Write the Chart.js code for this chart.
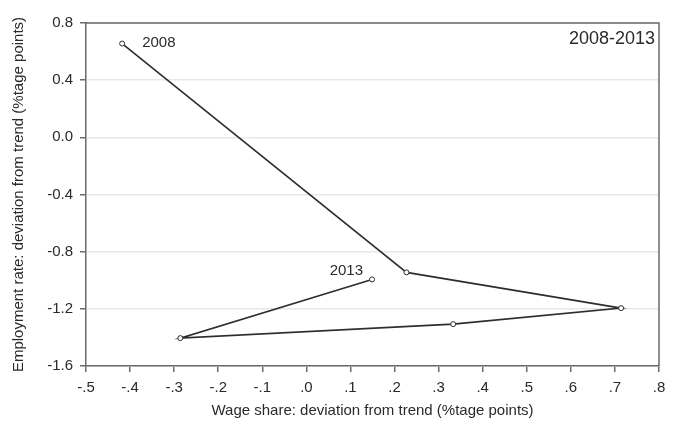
<!DOCTYPE html>
<html>
<head>
<meta charset="utf-8">
<script src="https://cdn.jsdelivr.net/npm/chart.js@4"></script>
<style>
  html, body { margin: 0; padding: 0; background: #ffffff; }
  #wrap { width: 686px; height: 435px; }
</style>
</head>
<body>
<div id="wrap"><canvas id="chart" width="686" height="435"></canvas></div>
<script>
// Data
const years          = ['2008', '2009', '2010', '2011', '2012', '2013'];
const wageShare      = [-0.418, 0.227, 0.714, 0.333, -0.286, 0.149];
const employmentRate = [0.656, -0.945, -1.195, -1.307, -1.405, -0.994];

const xTicks      = [-0.5, -0.4, -0.3, -0.2, -0.1, 0, 0.1, 0.2, 0.3, 0.4, 0.5, 0.6, 0.7, 0.8];
const xTickLabels = ['-.5', '-.4', '-.3', '-.2', '-.1', '.0', '.1', '.2', '.3', '.4', '.5', '.6', '.7', '.8'];
const yTicks      = [-1.6, -1.2, -0.8, -0.4, 0, 0.4, 0.8];
const yTickLabels = ['-1.6', '-1.2', '-0.8', '-0.4', '0.0', '0.4', '0.8'];

const periodLabel = '2008-2013';
const xTitle = 'Wage share: deviation from trend (%tage points)';
const yTitle = 'Employment rate: deviation from trend (%tage points)';

const FONT = "'Liberation Sans', Arial, sans-serif";
const TEXT_COLOR = '#2a2a2a';
const LINE_COLOR = '#2e2e2e';
const AXIS_COLOR = '#6a6a6a';

/* -------- Plugins -------- */

// top + right side of the plot box
const frame = {
  id: 'frame',
  afterDraw(chart) {
    const { ctx, chartArea: a } = chart;
    ctx.save();
    ctx.strokeStyle = AXIS_COLOR;
    ctx.lineWidth = 1.5;
    ctx.beginPath();
    ctx.moveTo(a.left, a.top);
    ctx.lineTo(a.right, a.top);
    ctx.lineTo(a.right, a.bottom);
    ctx.stroke();
    ctx.restore();
  }
};

// year labels next to first / last point, period label in the corner
const notes = {
  id: 'notes',
  afterDatasetsDraw(chart) {
    const { ctx, chartArea: a } = chart;
    const xs = chart.scales.x, ys = chart.scales.y;
    const last = years.length - 1;
    ctx.save();
    ctx.fillStyle = TEXT_COLOR;
    ctx.font = `15px ${FONT}`;
    ctx.textBaseline = 'alphabetic';

    ctx.textAlign = 'left';
    ctx.fillText(years[0], xs.getPixelForValue(wageShare[0]) + 20, ys.getPixelForValue(employmentRate[0]) + 3);

    ctx.textAlign = 'right';
    ctx.fillText(years[last], xs.getPixelForValue(wageShare[last]) - 9, ys.getPixelForValue(employmentRate[last]) - 4);

    ctx.font = `18px ${FONT}`;
    ctx.fillText(periodLabel, a.right - 4, a.top + 21);
    ctx.restore();
  }
};

/* -------- Chart -------- */

new Chart(document.getElementById('chart').getContext('2d'), {
  type: 'scatter',
  data: {
    datasets: [{
      data: wageShare.map((x, i) => ({ x, y: employmentRate[i] })),
      showLine: true,
      borderColor: LINE_COLOR,
      borderWidth: 1.6,
      pointRadius: 2.5,
      pointBackgroundColor: '#ffffff',
      pointBorderColor: LINE_COLOR,
      pointBorderWidth: 1,
    }],
  },
  options: {
    responsive: false,
    animation: false,
    layout: { padding: { left: 0, right: 27, top: 23, bottom: 0 } },
    plugins: { legend: { display: false }, tooltip: { enabled: false } },
    scales: {
      x: {
        type: 'linear',
        min: -0.5,
        max: 0.8,
        afterBuildTicks: s => { s.ticks = xTicks.map(v => ({ value: v })); },
        afterFit: s => { s.height = 69; },
        grid: { drawOnChartArea: false, drawTicks: true, tickLength: 6, tickColor: AXIS_COLOR, lineWidth: 1.5 },
        border: { display: true, color: AXIS_COLOR, width: 1.5 },
        ticks: {
          autoSkip: false,
          maxRotation: 0,
          padding: 7,
          color: TEXT_COLOR,
          font: { size: 15, family: FONT },
          callback: (v, i) => xTickLabels[i],
        },
        title: {
          display: true,
          text: xTitle,
          color: TEXT_COLOR,
          font: { size: 15, family: FONT },
          padding: { top: 0, bottom: 15 },
        },
      },
      y: {
        type: 'linear',
        min: -1.6,
        max: 0.8,
        afterBuildTicks: s => { s.ticks = yTicks.map(v => ({ value: v })); },
        afterFit: s => { s.width = 86; },
        grid: { color: '#e8e8e8', lineWidth: 1.5, drawTicks: true, tickLength: 6, tickColor: AXIS_COLOR },
        border: { display: true, color: AXIS_COLOR, width: 1.5 },
        ticks: {
          autoSkip: false,
          padding: 7,
          color: TEXT_COLOR,
          font: { size: 15, family: FONT },
          callback: (v, i) => yTickLabels[i],
        },
        title: {
          display: true,
          text: yTitle,
          color: TEXT_COLOR,
          font: { size: 15, family: FONT },
          padding: { top: 10, bottom: 0 },
        },
      },
    },
  },
  plugins: [frame, notes],
});
</script>
</body>
</html>
